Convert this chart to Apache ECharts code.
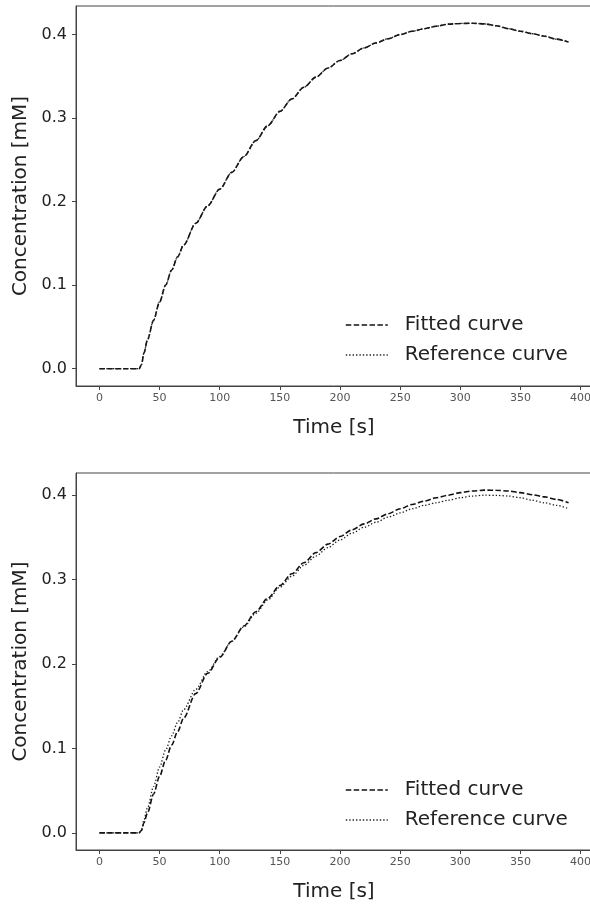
<!DOCTYPE html>
<html>
<head>
<meta charset="utf-8">
<script src="https://cdn.jsdelivr.net/npm/echarts@6/dist/echarts.min.js"></script>
<style>
  html, body { margin: 0; padding: 0; background: #fff; }
  #chart { width: 590px; height: 906px; }
</style>
</head>
<body>
<div id="chart"></div>
<script>
// time points [s]
const times = [0, 10, 20, 33, 35, 37, 40, 45, 50, 55, 60, 65, 70, 80, 90, 100, 110, 120, 130, 140,
  150, 160, 170, 180, 190, 200, 210, 220, 230, 240, 250, 260, 270, 280, 290, 300, 310, 320,
  330, 340, 350, 360, 370, 380, 390];

// top panel (both curves lie on top of each other)
const topFitted = [0, 0, 0, 0, 0.005, 0.019, 0.035, 0.058, 0.080, 0.100, 0.118, 0.134, 0.148, 0.174,
  0.195, 0.215, 0.235, 0.254, 0.273, 0.291, 0.308, 0.323, 0.337, 0.349, 0.360, 0.369, 0.377,
  0.384, 0.390, 0.395, 0.400, 0.404, 0.407, 0.410, 0.4125, 0.4133, 0.4135, 0.4128, 0.4105,
  0.407, 0.404, 0.401, 0.398, 0.3945, 0.391];
const topReference = [0, 0, 0, 0, 0.005, 0.019, 0.035, 0.058, 0.080, 0.100, 0.118, 0.134, 0.148, 0.174,
  0.195, 0.215, 0.235, 0.254, 0.273, 0.291, 0.308, 0.323, 0.337, 0.349, 0.360, 0.369, 0.377,
  0.384, 0.390, 0.395, 0.400, 0.404, 0.407, 0.410, 0.4125, 0.4133, 0.4135, 0.4128, 0.4105,
  0.407, 0.404, 0.401, 0.398, 0.3945, 0.391];

// bottom panel
const bottomFitted = [0, 0, 0, 0, 0.003, 0.012, 0.024, 0.046, 0.067, 0.086, 0.104, 0.120, 0.136, 0.165,
  0.189, 0.208, 0.227, 0.245, 0.262, 0.278, 0.293, 0.307, 0.320, 0.332, 0.342, 0.351, 0.359,
  0.366, 0.372, 0.378, 0.384, 0.389, 0.393, 0.397, 0.400, 0.403, 0.405, 0.406, 0.4058,
  0.405, 0.403, 0.4005, 0.398, 0.395, 0.391];
const bottomReference = [0, 0, 0, 0, 0.004, 0.016, 0.030, 0.055, 0.078, 0.098, 0.115, 0.131, 0.146, 0.170,
  0.191, 0.209, 0.227, 0.244, 0.260, 0.276, 0.291, 0.304, 0.317, 0.328, 0.338, 0.347, 0.355,
  0.362, 0.368, 0.374, 0.379, 0.384, 0.388, 0.391, 0.394, 0.397, 0.399, 0.400, 0.3998,
  0.399, 0.397, 0.394, 0.391, 0.388, 0.384];

const xTicks = [0, 50, 100, 150, 200, 250, 300, 350, 400];
const yTicks = [0, 0.1, 0.2, 0.3, 0.4];

const font = '"DejaVu Sans", sans-serif';
const pair = (vals) => times.map((t, i) => [t, vals[i]]);

function xAxisFor(idx) {
  return {
    type: 'value', gridIndex: idx, min: -19.5, max: 409.5,
    name: 'Time [s]', nameLocation: 'middle', nameGap: 32,
    nameTextStyle: { fontFamily: font, fontSize: 20, color: '#222' },
    splitLine: { show: false },
    axisLine: { show: true, onZero: false, lineStyle: { color: '#444', width: 1 } },
    axisTick: { show: true, customValues: xTicks, length: 4, lineStyle: { color: '#444' } },
    axisLabel: { customValues: xTicks, margin: 7, fontFamily: font, fontSize: 11, color: '#555' }
  };
}
function yAxisFor(idx, min, max) {
  return {
    type: 'value', gridIndex: idx, min: min, max: max,
    name: 'Concentration [mM]', nameLocation: 'middle', nameGap: 44,
    nameTextStyle: { fontFamily: font, fontSize: 20, color: '#222' },
    splitLine: { show: false },
    axisLine: { show: true, onZero: false, lineStyle: { color: '#444', width: 1 } },
    axisTick: { show: true, customValues: yTicks, length: 4, lineStyle: { color: '#444' } },
    axisLabel: { customValues: yTicks, margin: 9, fontFamily: font, fontSize: 16, color: '#222',
      formatter: v => v.toFixed(1) }
  };
}

const fittedStyle = { color: '#111', width: 1.6, type: [5.5, 2.4] };
const refStyle = { color: '#222', width: 1.3, type: [1.4, 2.0] };
const noMarker = { color: 'rgba(0,0,0,0)', borderWidth: 0, opacity: 0 };

function legendFor(top) {
  return {
    orient: 'vertical', left: 345, top: top, padding: 0, itemGap: 10,
    itemWidth: 42, itemHeight: 14,
    textStyle: { fontFamily: font, fontSize: 20, color: '#222', padding: [0, 0, 0, 12] },
    data: [
      { name: 'Fitted curve', lineStyle: fittedStyle, itemStyle: noMarker },
      { name: 'Reference curve', lineStyle: refStyle, itemStyle: noMarker }
    ]
  };
}

function lineSeries(name, vals, idx, style) {
  return {
    name: name, type: 'line', xAxisIndex: idx, yAxisIndex: idx,
    data: pair(vals), symbol: 'none', smooth: 0.3, smoothMonotone: 'x',
    lineStyle: style, itemStyle: { color: style.color }, animation: false
  };
}

const chart = echarts.init(document.getElementById('chart'), null, { renderer: 'canvas' });
chart.setOption({
  backgroundColor: '#fff',
  animation: false,
  grid: [
    { left: 76, top: 6, width: 516, height: 380, show: true, borderColor: '#444', borderWidth: 1,
      outerBoundsMode: 'none', containLabel: false },
    { left: 76, top: 473, width: 516, height: 377, show: true, borderColor: '#444', borderWidth: 1,
      outerBoundsMode: 'none', containLabel: false }
  ],
  legend: [legendFor(315), legendFor(780)],
  xAxis: [xAxisFor(0), xAxisFor(1)],
  yAxis: [yAxisFor(0, -0.0207, 0.4342), yAxisFor(1, -0.0203, 0.4263)],
  series: [
    lineSeries('Fitted curve', topFitted, 0, fittedStyle),
    lineSeries('Reference curve', topReference, 0, refStyle),
    lineSeries('Fitted curve', bottomFitted, 1, fittedStyle),
    lineSeries('Reference curve', bottomReference, 1, refStyle)
  ]
});
</script>
</body>
</html>
